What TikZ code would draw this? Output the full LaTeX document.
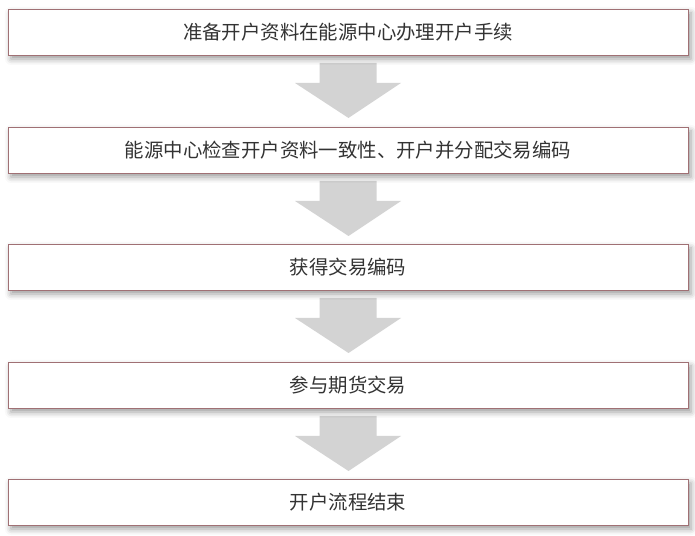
\documentclass[tikz,border=0pt]{standalone}
\usepackage{fontspec}
\setmainfont{Noto Sans CJK SC}
\usetikzlibrary{shadows.blur,calc}
\definecolor{boxline}{HTML}{A07074}
\definecolor{arrowgray}{HTML}{D3D3D3}
\definecolor{txt}{HTML}{333333}
\tikzset{
  stepbox/.style={draw=boxline, line width=0.9pt, fill=white, minimum width=680pt, minimum height=46pt,
    inner sep=0pt, text=txt, font=\fontsize{19.4pt}{23pt}\selectfont,
    blur shadow={shadow xshift=3pt, shadow yshift=-4pt, shadow blur radius=6pt, shadow opacity=40}},
  flowarrow/.style={fill=arrowgray, draw=none}
}
\newcommand{\flowarr}[1]{%
  \fill[flowarrow] ($(#1)+(-28.5,-8)$) -- ($(#1)+(28.5,-8)$) -- ($(#1)+(28.5,-28)$)
   -- ($(#1)+(53,-28)$) -- ($(#1)+(0.5,-63)$) -- ($(#1)+(-53,-28)$)
   -- ($(#1)+(-28.5,-28)$) -- cycle;}
\begin{document}
\begin{tikzpicture}[x=1pt,y=1pt]
\useasboundingbox (0,0) rectangle (695,535);
\coordinate (a1) at (348,535-55);
\coordinate (a2) at (348,535-173);
\coordinate (a3) at (348,535-290);
\coordinate (a4) at (348,535-408);
\flowarr{a1}
\flowarr{a2}
\flowarr{a3}
\flowarr{a4}
\node[stepbox] (b1) at (348,535-32) {准备开户资料在能源中心办理开户手续};
\node[stepbox] (b2) at (348,535-150) {能源中心检查开户资料一致性、开户并分配交易编码};
\node[stepbox] (b3) at (348,535-267) {获得交易编码};
\node[stepbox] (b4) at (348,535-385) {参与期货交易};
\node[stepbox] (b5) at (348,535-502) {开户流程结束};
\end{tikzpicture}
\end{document}
